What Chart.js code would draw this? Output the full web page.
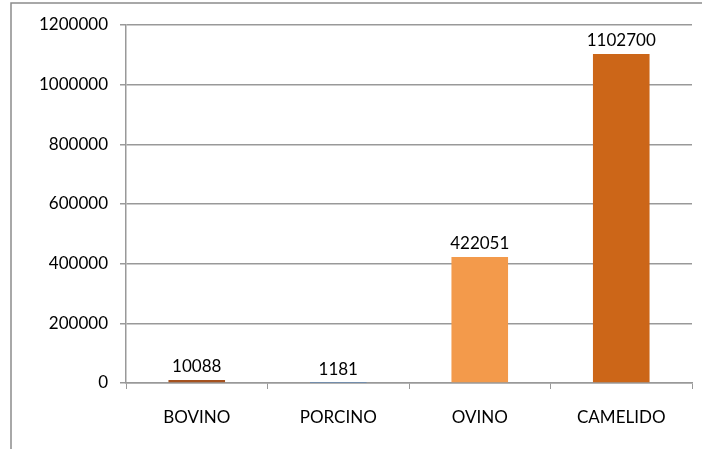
<!DOCTYPE html>
<html>
<head>
<meta charset="utf-8">
<script src="https://cdn.jsdelivr.net/npm/chart.js@4/dist/chart.umd.min.js"></script>
<style>
  html, body { margin: 0; padding: 0; background: #fff; }
  #wrap { width: 702px; height: 449px; position: relative; }
</style>
</head>
<body>
<div id="wrap"><canvas id="chart"></canvas></div>
<script>
// Données
const CATEGORIES = ['BOVINO', 'PORCINO', 'OVINO', 'CAMELIDO'];
const VALEURS = [10088, 1181, 422051, 1102700];
const COULEURS = ['#A5521F', '#4F81BD', '#F39A4B', '#CC6618'];
const Y_MAX = 1200000;
const Y_PAS = 200000;

const FONT = 'Lato, "Open Sans", sans-serif';

// Cadre extérieur (seuls le haut et la gauche sont visibles)
const cadre = {
  id: 'cadre',
  beforeDraw(chart) {
    const c = chart.ctx;
    c.save();
    c.fillStyle = '#fff';
    c.fillRect(0, 0, chart.width, chart.height);
    c.strokeStyle = '#8c8c8c';
    c.lineWidth = 1.5;
    c.beginPath();
    c.moveTo(11, chart.height);
    c.lineTo(11, 3);
    c.lineTo(chart.width, 3);
    c.stroke();
    c.restore();
  }
};

// Étiquettes de valeur au-dessus des barres
const etiquettes = {
  id: 'etiquettes',
  afterDatasetsDraw(chart) {
    const c = chart.ctx;
    const meta = chart.getDatasetMeta(0);
    c.save();
    c.font = '17px ' + FONT;
    c.fillStyle = '#000';
    c.textAlign = 'center';
    c.textBaseline = 'bottom';
    meta.data.forEach((bar, i) => {
      c.fillText(String(VALEURS[i]), bar.x, bar.y - 5);
    });
    c.restore();
  }
};

new Chart(document.getElementById('chart'), {
  type: 'bar',
  data: {
    labels: CATEGORIES,
    datasets: [{
      data: VALEURS,
      backgroundColor: COULEURS,
      borderWidth: 0,
      barPercentage: 0.4,
      categoryPercentage: 1
    }]
  },
  options: {
    responsive: true,
    maintainAspectRatio: false,
    animation: false,
    layout: { padding: { top: 25, right: 10, left: 0, bottom: 0 } },
    plugins: { legend: { display: false }, tooltip: { enabled: false } },
    scales: {
      x: {
        afterFit: s => { s.height = 66; },
        grid: { drawOnChartArea: false, color: '#999', tickLength: 6, offset: true },
        border: { color: '#999', width: 1.5 },
        ticks: { color: '#000', font: { family: FONT, size: 17 }, padding: 18 }
      },
      y: {
        min: 0, max: Y_MAX,
        afterFit: s => { s.width = 126; },
        grid: { color: '#999', lineWidth: 1.5, tickLength: 6 },
        border: { color: '#999', width: 1.5 },
        ticks: {
          stepSize: Y_PAS, color: '#000', font: { family: FONT, size: 17 }, padding: 12,
          callback: v => String(v)
        }
      }
    }
  },
  plugins: [cadre, etiquettes]
});
</script>
</body>
</html>
